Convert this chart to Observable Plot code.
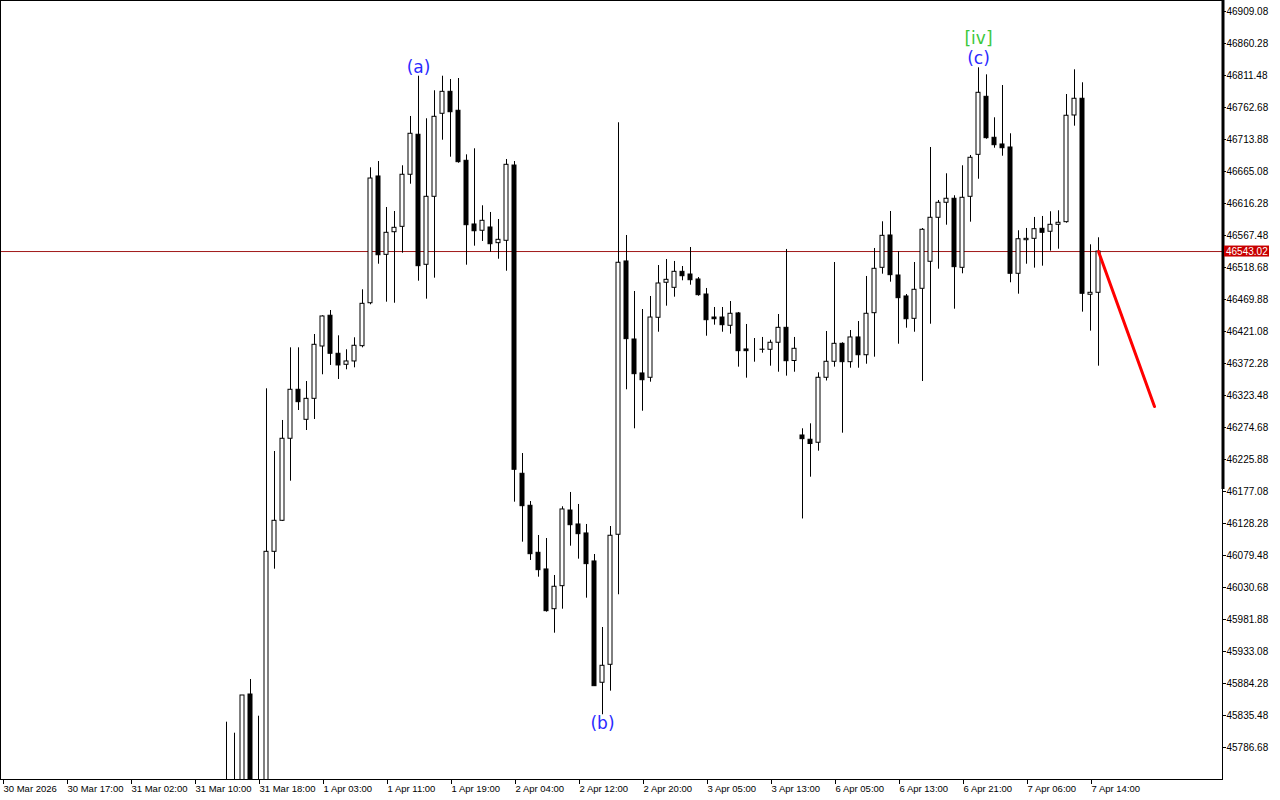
<!DOCTYPE html>
<html>
<head>
<meta charset="utf-8">
<script src="https://cdn.jsdelivr.net/npm/d3@7"></script>
<script src="https://cdn.jsdelivr.net/npm/@observablehq/plot@0.6"></script>
<style>
  html, body { margin: 0; padding: 0; background: #fff; overflow: hidden; }
  #chart svg { display: block; }
</style>
</head>
<body>
<div id="chart"></div>
<script>
// ---- Data (hourly bars, index = bar slot on the time axis) ----
const firstBar = 28;
const open = [45700,45690,45700,45867.5,45705,45710,46085.1,46132.4,46257.5,46332.2,
  46286.4,46318.4,46398.2,46445.1,46387.1,46370.3,46375.4,46398.7,46464.2,46657.5,
  46538.0,46572.5,46580.7,46660.1,46721.1,46522.8,46626.5,46753.1,46786.6,46757.7,
  46681.4,46584.3,46574.7,46579.7,46555.8,46559.4,46674.2,46204.1,46155.3,46083.6,
  46058.2,45997.6,46032.7,46148.1,46126.8,46113.1,46070.4,45885.4,45912.8,46111.1,
  46527.9,46408.9,46357.1,46350.5,46442.0,46495.4,46487.7,46512.1,46508.0,46500.4,
  46477.5,46442.4,46442.4,46429.8,46448.6,46393.7,46393.2,46393.2,46393.2,46403.9,
  46426.7,46376.1,46262.5,46256.0,46251.4,46350.5,46374.9,46402.3,46374.3,46412.0,
  46384.9,46449.0,46518.2,46567.5,46506.5,46474.5,46440.4,46486.2,46527.4,46594.5,
  46617.4,46623.5,46518.2,46626.5,46690.5,46779.0,46716.5,46706.3,46701.7,46509.1,
  46560.3,46562.4,46577.7,46573.2,46583.8,46587.8,46750.5,46776.0,46477.1,46480.1];
const high = [45825.3,45808.5,45866.0,45890.4,45834.4,46333.7,46238.1,46285.4,46396.2,46396.2,
  46344.8,46416.5,46445.1,46453.1,46414.5,46393.2,46411.5,46484.7,46670.7,46680.3,
  46610.2,46604.1,46673.8,46749.0,46810.4,46745.5,46788.2,46810.4,46805.4,46806.9,
  46690.5,46699.7,46612.8,46602.6,46591.9,46683.4,46680.3,46235.0,46161.8,46110.0,
  46105.4,46049.0,46153.8,46175.6,46157.3,46126.8,46081.0,45969.7,46123.7,46739.4,
  46567.5,46482.1,46454.6,46474.5,46521.7,46530.9,46527.9,46520.2,46549.2,46503.4,
  46486.7,46457.7,46457.7,46466.8,46450.1,46431.8,46410.4,46412.0,46407.8,46447.0,
  46546.2,46412.0,46272.7,46280.3,46358.1,46421.1,46526.3,46403.9,46422.6,46436.3,
  46505.0,46547.7,46588.4,46604.1,46542.7,46477.5,46526.3,46578.1,46701.7,46620.9,
  46661.6,46628.1,46673.8,46689.5,46823.2,46812.5,46747.0,46796.2,46722.6,46574.7,
  46578.2,46595.0,46596.5,46603.7,46605.2,46782.5,46820.2,46800.4,46553.3,46564.0];
const low = [45680,45675,45685,45680,45690,45695,46058.6,46131.3,46192.8,46300.6,
  46270.1,46286.9,46355.1,46369.3,46347.9,46362.7,46365.7,46396.2,46461.8,46523.7,
  46465.8,46464.2,46540.5,46645.7,46497.8,46470.4,46502.4,46712.8,46686.9,46677.7,
  46522.2,46551.2,46558.4,46542.0,46531.3,46513.0,46160.8,46099.8,46071.9,46046.4,
  45993.1,45961.0,45997.6,46093.7,46073.9,46014.4,45879.7,45836.6,45872.6,46019.6,
  46332.2,46272.7,46299.5,46343.8,46420.0,46459.7,46473.4,46498.4,46491.7,46474.9,
  46413.9,46430.7,46420.0,46417.0,46366.7,46349.9,46374.3,46388.0,46368.2,46359.0,
  46353.0,46359.0,46135.2,46198.9,46238.6,46345.6,46366.7,46266.0,46365.1,46365.1,
  46371.2,46381.9,46508.5,46496.3,46401.7,46426.1,46420.0,46344.8,46432.2,46516.1,
  46583.2,46455.1,46509.1,46587.8,46653.3,46714.3,46700.6,46688.4,46495.4,46478.0,
  46523.7,46517.7,46520.7,46543.6,46546.6,46586.3,46734.2,46450.6,46421.6,46368.2];
const close = [45690,45705,45866.0,45700,45715,46085.1,46132.4,46257.5,46332.2,46313.3,
  46318.4,46400.8,46444.0,46387.1,46369.3,46375.4,46399.3,46463.3,46654.4,46537.4,
  46571.6,46579.2,46660.1,46722.6,46520.7,46626.5,46748.5,46786.6,46755.5,46679.3,
  46583.2,46574.0,46589.9,46554.2,46560.9,46675.3,46210.2,46154.7,46081.5,46057.1,
  45994.6,46031.8,46149.7,46125.7,46112.0,46066.3,45880.2,45911.3,46109.6,46525.9,
  46409.4,46356.0,46346.8,46442.4,46494.3,46499.9,46512.1,46505.4,46499.3,46476.5,
  46438.3,46439.8,46430.7,46448.1,46391.1,46391.1,46393.2,46393.4,46403.9,46426.7,
  46375.8,46394.7,46256.9,46249.5,46350.5,46374.9,46402.3,46374.3,46412.0,46384.9,
  46448.1,46516.7,46567.0,46507.0,46471.9,46439.8,46484.7,46576.2,46594.5,46617.4,
  46623.5,46519.2,46625.0,46686.0,46785.1,46715.9,46705.2,46700.6,46509.1,46561.8,
  46562.4,46577.1,46571.6,46583.8,46586.9,46750.1,46776.0,46478.6,46480.1,46543.02];

const lastPrice = 46543.02;

// Forecast arrow (bar index, price)
const forecastIdx = [137, 144];
const forecastPrice = [46543.02, 46306.7];

// Wave labels
const waveText  = ["(a)", "(b)", "(c)", "[iv]"];
const waveIdx   = [52, 75, 122, 122];
const wavePrice = [46823.7, 45823.3, 46837.4, 46868.0];
const waveColor = ["#2a2aff", "#2a2aff", "#2a2aff", "#3cc83c"];

// Price-scale marker (thick part of the right scale edge)
const scaleMarkTop = 46925.86;
const scaleMarkBottom = 46180.0;

// Axis ticks
const yTicks = [46909.08,46860.28,46811.48,46762.68,46713.88,46665.08,46616.28,46567.48,
  46518.68,46469.88,46421.08,46372.28,46323.48,46274.68,46225.88,46177.08,46128.28,
  46079.48,46030.68,45981.88,45933.08,45884.28,45835.48,45786.68];
const xTickIdx = [0,8,16,24,32,40,48,56,64,72,80,88,96,104,112,120,128,136];
const xTickLabels = ["30 Mar 2026","30 Mar 17:00","31 Mar 02:00","31 Mar 10:00","31 Mar 18:00",
  "1 Apr 03:00","1 Apr 11:00","1 Apr 19:00","2 Apr 04:00","2 Apr 12:00","2 Apr 20:00",
  "3 Apr 05:00","3 Apr 13:00","6 Apr 05:00","6 Apr 13:00","6 Apr 21:00","7 Apr 06:00","7 Apr 14:00"];

// ---- Build tables ----
const bars = open.map((o, k) => ({i: firstBar + k, o, h: high[k], l: low[k], c: close[k]}));
const forecast = forecastIdx.map((i, k) => ({i, p: forecastPrice[k]}));
const waves = waveText.map((t, k) => ({t, i: waveIdx[k], p: wavePrice[k], color: waveColor[k]}));

const FONT = "'Liberation Sans', Arial, sans-serif";
const chart = Plot.plot({
  width: 1280, height: 800,
  marginLeft: 0, marginRight: 58, marginTop: 0, marginBottom: 21,
  x: {type: "linear", domain: [-0.25, 152.5], axis: null, label: null},
  y: {type: "linear", domain: [45737.88, 46925.86], axis: null, label: null},
  style: {background: "#fff", fontFamily: FONT, fontSize: "10px", color: "#000"},
  marks: [
    Plot.ruleY([lastPrice], {stroke: "#a01818", strokeWidth: 1}),
    Plot.ruleX(bars, {x: "i", y1: "l", y2: "h", stroke: "#000", strokeWidth: 1, clip: true}),
    Plot.rect(bars, {
      x1: d => d.i - 0.25, x2: d => d.i + 0.25,
      y1: "o", y2: "c",
      fill: d => d.c >= d.o ? "#fff" : "#000",
      stroke: "#000", strokeWidth: 1, clip: true
    }),
    Plot.line(forecast, {x: "i", y: "p", stroke: "#ff0000", strokeWidth: 3}),
    Plot.text(waves, {x: "i", y: "p", text: "t", fill: d => d.color,
      fontSize: 17, fontFamily: "'DejaVu Sans', sans-serif"}),
    Plot.frame({stroke: "#000"}),
    Plot.ruleX([152.5], {y1: scaleMarkTop, y2: scaleMarkBottom, stroke: "#000", strokeWidth: 3, dx: 0.5}),
    Plot.axisY(yTicks, {anchor: "right", tickSize: 3, tickPadding: 1, label: null,
      tickFormat: d => d.toFixed(2), fontSize: 10}),
    Plot.axisX(xTickIdx, {anchor: "bottom", tickSize: 5, tickPadding: 1, label: null,
      tickFormat: (d, k) => xTickLabels[k], textAnchor: "start", dx: 1, fontSize: 9.5})
  ]
});

document.getElementById("chart").appendChild(chart);

// Current price label on the price scale
const yp = chart.scale("y").apply(lastPrice);
const g = d3.select(chart).append("g");
g.append("rect").attr("x", 1224).attr("y", yp - 5.5).attr("width", 45).attr("height", 11).attr("fill", "#c80000");
g.append("text").attr("x", 1226).attr("y", yp).attr("dy", "0.35em")
  .attr("text-anchor", "start")
  .attr("fill", "#fff").attr("font-size", 10).attr("font-family", FONT)
  .text(lastPrice.toFixed(2));
</script>
</body>
</html>
